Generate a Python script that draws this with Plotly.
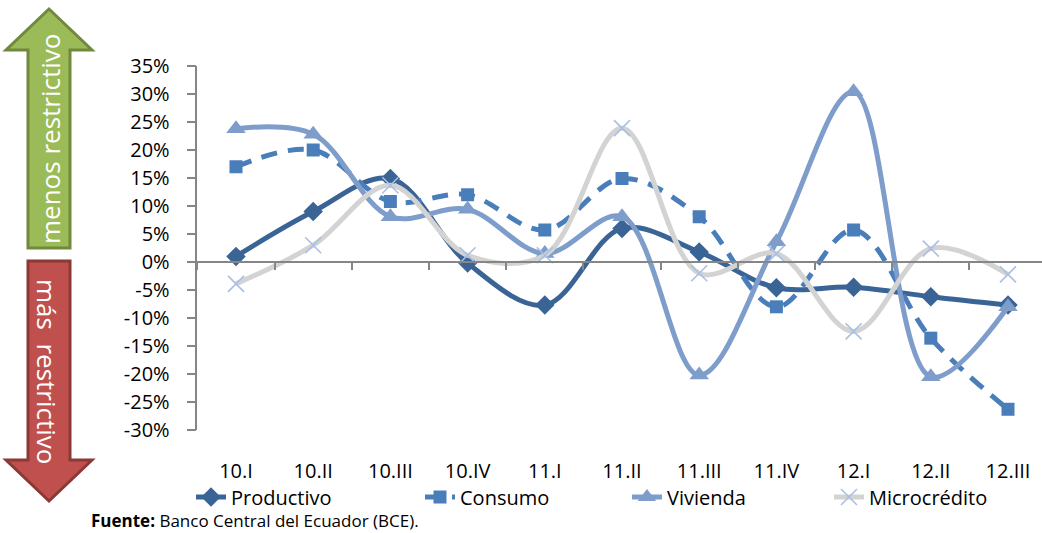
import plotly.graph_objects as go

categories = ["10.I", "10.II", "10.III", "10.IV", "11.I", "11.II", "11.III", "11.IV", "12.I", "12.II", "12.III"]
productivo = [1.0, 9.0, 14.9, -0.2, -7.7, 6.0, 1.8, -4.6, -4.5, -6.2, -7.7]
consumo = [17.0, 20.0, 10.8, 12.0, 5.7, 14.9, 8.1, -8.0, 5.7, -13.6, -26.3]
vivienda = [23.8, 22.8, 8.1, 9.4, 1.5, 8.1, -20.2, 3.6, 30.4, -20.5, -8.0]
microcredito = [-3.9, 3.0, 13.7, 1.2, 1.2, 23.9, -2.0, 1.5, -12.4, 2.4, -2.2]
ytick_vals = [35, 30, 25, 20, 15, 10, 5, 0, -5, -10, -15, -20, -25, -30]
ytick_text = [f"{v}%" for v in ytick_vals]

W, H = 1042, 533
FONT = "Open Sans"
GRAY = "#868686"


def px(x):
    return x / W


def py(y):
    return 1 - y / H


def path(points):
    s = "M " + " L ".join(f"{px(a):.5f},{py(b):.5f}" for a, b in points) + " Z"
    return s


fig = go.Figure()

series = [
    ("Productivo", productivo, "#3A6496", "solid", dict(symbol="diamond", size=15, color="#3A6496")),
    ("Consumo", consumo, "#4A7EBB", "16px,11px", dict(symbol="square", size=13, color="#4A7EBB")),
    ("Vivienda", vivienda, "#7E9DCB", "solid", dict(symbol="triangle-up", size=17, color="#7E9DCB")),
    ("Microcrédito", microcredito, "#D3D3D3", "solid",
     dict(symbol="x-thin", size=16, color="#A9C0E4", line=dict(color="#A9C0E4", width=1.6))),
]
legend_names = ["legend", "legend2", "legend3", "legend4"]
for (name, vals, col, dash, mk), lg in zip(series, legend_names):
    fig.add_trace(go.Scatter(
        x=categories, y=vals, name=name, mode="lines+markers",
        line=dict(color=col, width=5, shape="spline", smoothing=1.0, dash=dash),
        marker=mk, legend=lg,
    ))

# category-boundary ticks on the zero line
boundary = [i + 0.5 for i in range(-1, 11)]
fig.add_trace(go.Scatter(x=[categories[0]], y=[None], xaxis="x2", showlegend=False, hoverinfo="skip"))

x0 = 197.4
xr = [-0.5, -0.5 + (W - x0) / 77.2]
y_top, y_bot, y_zero = 66, 430, 262

layout_legends = {}
text_starts = [233, 462, 669, 871]
for lg, ts in zip(legend_names, text_starts):
    layout_legends[lg] = dict(
        x=px(ts - 42), y=py(497), xanchor="left", yanchor="middle",
        orientation="h", font=dict(family=FONT, size=20, color="#000"),
        bgcolor="rgba(0,0,0,0)", borderwidth=0, tracegroupgap=0,
    )

fig.update_layout(
    width=W, height=H, autosize=False,
    margin=dict(l=0, r=0, t=0, b=0),
    paper_bgcolor="white", plot_bgcolor="white",
    font=dict(family=FONT, color="#000"),
    xaxis=dict(
        domain=[px(x0), 1], range=xr, type="category",
        showgrid=False, zeroline=False, showline=False, ticks="",
        tickfont=dict(family=FONT, size=20, color="#000"),
        ticklabelstandoff=27, automargin=False,
    ),
    xaxis2=dict(
        overlaying="x", anchor="free", position=py(y_zero), side="bottom",
        range=xr, type="linear", domain=[px(x0), 1],
        tickvals=boundary, ticks="outside", ticklen=7, tickwidth=1.5, tickcolor=GRAY,
        showticklabels=False, showgrid=False, zeroline=False,
        showline=True, linecolor=GRAY, linewidth=1.5, automargin=False,
    ),
    yaxis=dict(
        domain=[py(y_bot), py(y_top)], range=[-30, 35],
        tickvals=ytick_vals, ticktext=ytick_text,
        showgrid=False, zeroline=False, showline=True, linecolor=GRAY, linewidth=1.5,
        ticks="outside", ticklen=9, tickwidth=1.5, tickcolor=GRAY,
        tickfont=dict(family=FONT, size=20, color="#000"),
        ticklabelstandoff=13, automargin=False,
    ),
    showlegend=True,
    **layout_legends,
)

# Arrows
green_pts = [(49, 9), (92, 50), (70, 50), (70, 248), (28, 248), (28, 50), (6, 50)]
red_pts = [(28, 261), (70, 261), (70, 460), (92, 460), (49, 501), (6, 460), (28, 460)]
fig.add_shape(type="path", path=path(green_pts), xref="paper", yref="paper",
              fillcolor="#9BBB59", line=dict(color="#71893F", width=3), layer="above")
fig.add_shape(type="path", path=path(red_pts), xref="paper", yref="paper",
              fillcolor="#C0504D", line=dict(color="#8C3836", width=3), layer="above")

fig.add_annotation(x=px(50), y=py(139), xref="paper", yref="paper", text="menos restrictivo",
                   xanchor="center", yanchor="middle",
                   textangle=-90, showarrow=False, font=dict(family=FONT, size=26, color="white"))
fig.add_annotation(x=px(47), y=py(371), xref="paper", yref="paper", text="más&nbsp;&nbsp;restrictivo",
                   xanchor="center", yanchor="middle",
                   textangle=90, showarrow=False, font=dict(family=FONT, size=26, color="white"))

fig.add_annotation(x=px(90), y=py(533), xref="paper", yref="paper", xanchor="left", yanchor="bottom",
                   text="<b>Fuente:</b> Banco Central del Ecuador (BCE).", showarrow=False,
                   borderpad=0, font=dict(family=FONT, size=17, color="#000"))

fig.write_html("out.html", config={"displayModeBar": False},
               post_script="document.body.style.margin='0px';document.body.style.padding='0px';")
